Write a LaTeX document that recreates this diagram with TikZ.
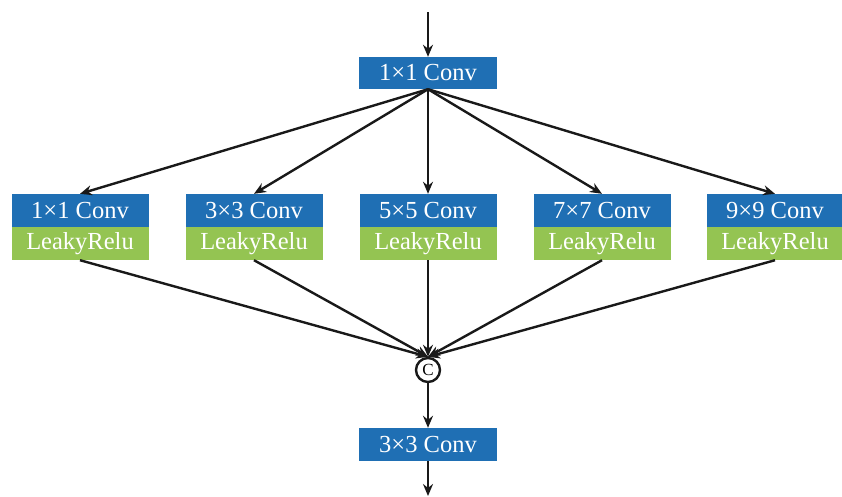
\documentclass[tikz,border=0pt]{standalone}
\usepackage{fontspec}
\setmainfont{Liberation Serif}
\usetikzlibrary{arrows.meta}
\definecolor{convblue}{RGB}{31,111,180}
\definecolor{relugreen}{RGB}{148,196,82}
\tikzset{
  convbox/.style={rectangle, fill=convblue, text=white, minimum width=137pt, minimum height=33pt, inner sep=0pt, font=\fontsize{24.5}{26}\selectfont},
  relubox/.style={rectangle, fill=relugreen, text=white, minimum width=137pt, minimum height=33pt, inner sep=0pt, font=\fontsize{24.5}{26}\selectfont},
  conn/.style={line width=2.4pt, draw=black!90, -{Stealth[length=12pt,width=10pt]}},
  catnode/.style={circle, draw=black!90, line width=2.4pt, minimum size=24pt, inner sep=0pt, fill=white, font=\fontsize{17}{18}\selectfont}
}
\begin{document}
\begin{tikzpicture}[x=1pt,y=-1pt]
\useasboundingbox (0,0) rectangle (842,496);
\coordinate (in) at (428,12);
\coordinate (out) at (428,496);
\node[convbox, minimum width=138pt, minimum height=32pt] (top) at (428,73) {1×1 Conv};
\foreach \i/\x/\k in {1/80/1, 2/254/3, 3/428/5, 4/602/7, 5/775/9} {
  \node[convbox] (c\i) at (\x,210.5) {\k×\k{} Conv};
  \node[relubox] (r\i) at (\x,243.5) {LeakyRelu};
}
\node[catnode] (cat) at (428,370) {C};
\node[convbox, minimum width=138pt] (bot) at (428,444.5) {3×3 Conv};
\draw[conn] (in) -- (top.north);
\foreach \i in {1,...,5} {
  \draw[conn] (top.south) -- (c\i.north);
  \draw[conn] (r\i.south) -- (cat.north);
}
\draw[conn] (cat.south) -- (bot.north);
\draw[conn] (bot.south) -- (out);
\end{tikzpicture}
\end{document}
